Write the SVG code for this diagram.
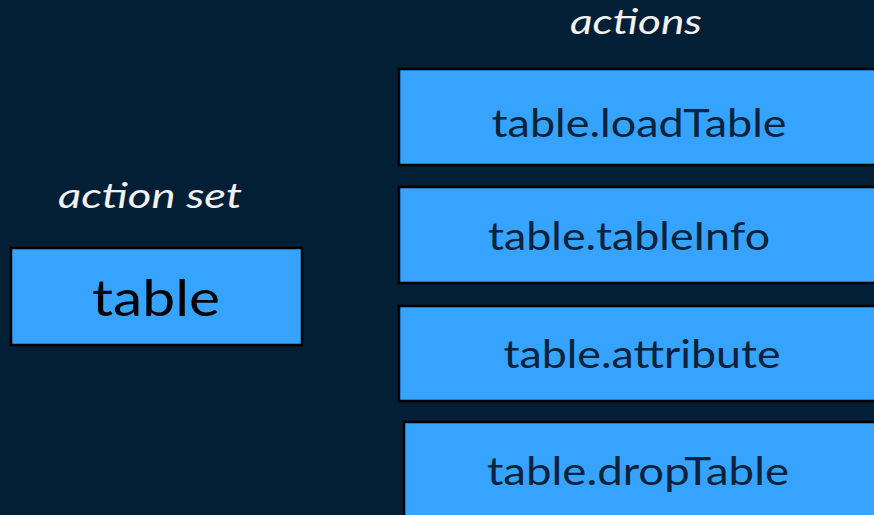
<svg xmlns="http://www.w3.org/2000/svg" width="874" height="515" viewBox="0 0 874 515">
<style>
.box{fill:#36a3ff;stroke:#000;stroke-width:2.5}
.lbl{font-family:Lato,"Open Sans",sans-serif;font-size:39px;fill:#0c2238;text-anchor:middle}
.cap{font-family:Lato,"Open Sans",sans-serif;font-style:italic;font-size:34px;fill:#f2f2f2;text-anchor:middle}
</style>
<rect width="874" height="515" fill="#021f36"/>
<text class="cap" x="150" y="208" textLength="184" lengthAdjust="spacingAndGlyphs">action set</text>
<text class="cap" x="636" y="34" textLength="132" lengthAdjust="spacingAndGlyphs">actions</text>
<g id="table">
<rect class="box" x="11" y="248" width="291" height="97"/>
<text class="lbl" x="156" y="316" style="font-size:51px;fill:#000" textLength="128" lengthAdjust="spacingAndGlyphs">table</text>
</g>
<g id="loadTable">
<rect class="box" x="399" y="69" width="500" height="96"/>
<text class="lbl" x="639" y="137" textLength="295" lengthAdjust="spacingAndGlyphs">table.loadTable</text>
</g>
<g id="tableInfo">
<rect class="box" x="399" y="187" width="500" height="96"/>
<text class="lbl" x="629" y="250" textLength="282" lengthAdjust="spacingAndGlyphs">table.tableInfo</text>
</g>
<g id="attribute">
<rect class="box" x="399" y="306" width="500" height="95"/>
<text class="lbl" x="642" y="368" textLength="277" lengthAdjust="spacingAndGlyphs">table.attribute</text>
</g>
<g id="dropTable">
<rect class="box" x="404" y="422" width="500" height="110"/>
<text class="lbl" x="638" y="485" textLength="302" lengthAdjust="spacingAndGlyphs">table.dropTable</text>
</g>
<g id="connectors"/>
</svg>
